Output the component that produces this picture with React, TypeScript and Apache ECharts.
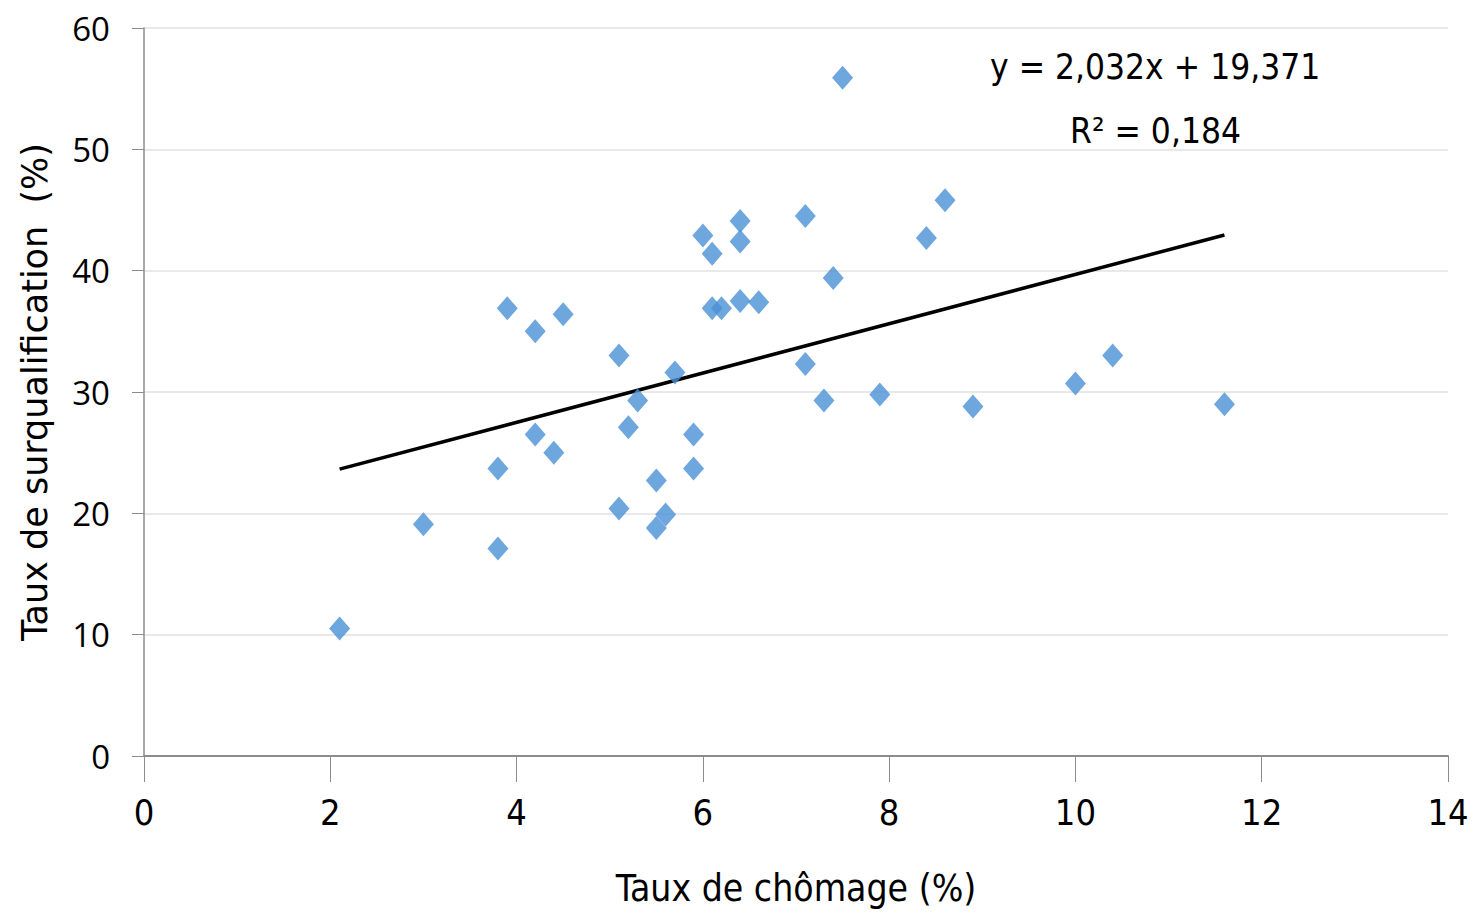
import React, { useEffect, useRef } from "react";
import * as echarts from "echarts";

const chomage = [
  2.1, 3.0, 3.8, 3.8, 3.9, 4.2, 4.2, 4.4, 4.5, 5.1, 5.1, 5.2, 5.3, 5.5, 5.5, 5.6, 5.7, 5.9, 5.9, 6.0,
  6.1, 6.1, 6.2, 6.4, 6.4, 6.4, 6.6, 7.1, 7.1, 7.3, 7.4, 7.5, 7.9, 8.4, 8.6, 8.9, 10.0, 10.4, 11.6,
];
const surqualification = [
  10.5, 19.1, 23.7, 17.1, 36.9, 35.0, 26.5, 25.0, 36.4, 33.0, 20.4, 27.1, 29.3, 22.7, 18.8, 19.9, 31.6, 26.5, 23.7, 42.9,
  41.4, 36.9, 36.9, 44.1, 42.4, 37.5, 37.4, 44.5, 32.3, 29.3, 39.4, 55.9, 29.8, 42.7, 45.8, 28.8, 30.7, 33.0, 29.0,
];
const trendX = [2.1, 11.6];
const trendY = [23.64, 42.94];
const equationLines = ["y = 2,032x + 19,371", "R² = 0,184"];
const xTitle = "Taux de chômage (%)";
const yTitle = "Taux de surqualification  (%)";

export default function App() {
  const ref = useRef<HTMLDivElement>(null);
  useEffect(() => {
    if (!ref.current) return;
    const chart = echarts.init(ref.current, undefined, { renderer: "svg" });
    const narrow = "'DejaVu Sans Condensed', 'Liberation Sans Narrow', sans-serif";
    chart.setOption({
      animation: false,
      backgroundColor: "#ffffff",
      grid: { left: 144, right: 32, top: 28, bottom: 159, containLabel: false },
      xAxis: {
        type: "value",
        min: 0,
        max: 14,
        interval: 2,
        name: xTitle,
        nameLocation: "middle",
        nameGap: 114,
        nameTextStyle: { fontFamily: narrow, fontSize: 37, color: "#000" },
        axisLine: { show: true, onZero: false, lineStyle: { color: "#8c8c8c", width: 2 } },
        axisTick: { show: true, length: 26, lineStyle: { color: "#8c8c8c", width: 1 } },
        axisLabel: { margin: 38, fontFamily: narrow, fontSize: 36, color: "#000" },
        splitLine: { show: false },
      },
      yAxis: {
        type: "value",
        min: 0,
        max: 60,
        interval: 10,
        name: yTitle,
        nameLocation: "middle",
        nameGap: 92,
        nameTextStyle: { fontFamily: "'DejaVu Sans', sans-serif", fontSize: 35, color: "#000" },
        axisLine: { show: true, lineStyle: { color: "#8c8c8c", width: 1.5 } },
        axisTick: { show: true, length: 12, lineStyle: { color: "#8c8c8c", width: 1 } },
        axisLabel: { margin: 34, fontFamily: "'Open Sans', sans-serif", fontSize: 33, color: "#000" },
        splitLine: { show: true, lineStyle: { color: "#e2e2e2", width: 1.5 } },
      },
      series: [
        {
          type: "line",
          data: trendX.map((x, i) => [x, trendY[i]]),
          symbol: "none",
          lineStyle: { color: "#000", width: 3.5 },
          z: 1,
        },
        {
          type: "scatter",
          data: chomage.map((x, i) => [x, surqualification[i]]),
          symbol: "diamond",
          symbolSize: [21, 24],
          itemStyle: { color: "#4A90D6" },
          z: 2,
        },
      ],
      graphic: [
        {
          type: "text",
          left: 990,
          top: 49,
          style: {
            text: equationLines[0],
            fontFamily: narrow,
            fontSize: 35,
            fill: "#000",
          },
        },
        {
          type: "text",
          left: 1070,
          top: 113,
          style: {
            text: equationLines[1],
            fontFamily: narrow,
            fontSize: 35,
            fill: "#000",
          },
        },
      ],
    });
    return () => chart.dispose();
  }, []);
  return (
    <div
      ref={ref}
      style={{ position: "fixed", left: 0, top: 0, width: 1480, height: 915, background: "#fff" }}
    />
  );
}
